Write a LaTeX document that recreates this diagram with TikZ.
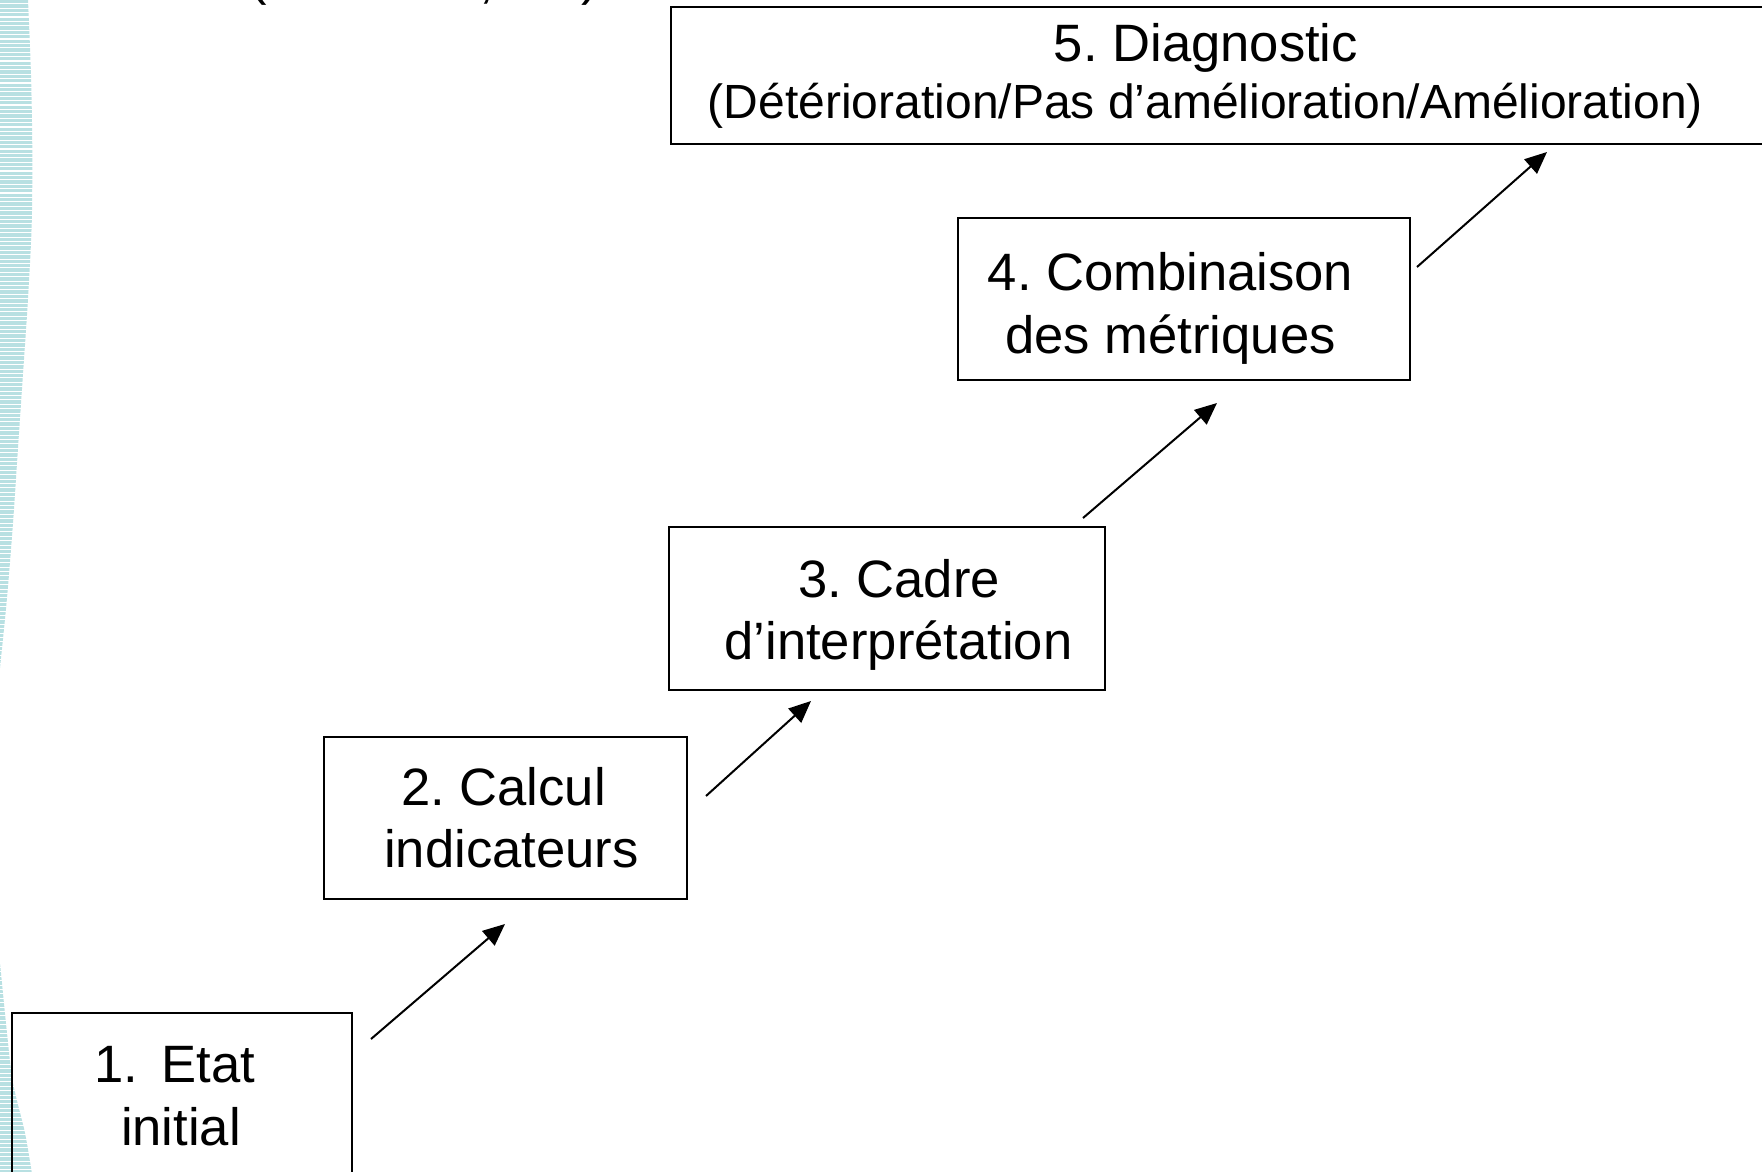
\documentclass[tikz,border=0pt]{standalone}
\usepackage{fontspec}
\setmainfont{Liberation Sans}
\usetikzlibrary{arrows.meta,calc}
\definecolor{stripecol}{RGB}{184,224,226}
\frenchspacing
\begin{document}
\begin{tikzpicture}[x=0.5pt,y=-0.5pt,
  stepbox/.style={draw=black, line width=1pt, inner sep=0pt, minimum height=81pt},
  lbl/.style={anchor=base, inner sep=0pt, font=\fontsize{26.3}{31}\selectfont},
  sublbl/.style={anchor=base, inner sep=0pt, font=\fontsize{24}{29}\selectfont},
  flow/.style={line width=1pt, -{Triangle[length=11pt,width=9.5pt]}},
  stripe/.style={fill=stripecol}]
\useasboundingbox (0,0) rectangle (1762,1172);
\clip (0,0) rectangle (1762,1172);

% striped band along the left edge, upper part
\begin{scope}
  \clip (0,-5) -- (28,-5) -- plot[smooth] coordinates {(28,0) (31,75) (32.3,150) (31.7,224) (28,299) (23,374) (18,448) (13,523) (7,598) (0,668)} -- cycle;
  \foreach \k in {0,...,155} \fill[stripe] (0,{\k*4.4}) rectangle (40,{\k*4.4+3.3});
\end{scope}
% striped band along the left edge, lower part
\begin{scope}
  \clip plot[smooth] coordinates {(0,963) (7,1033) (13,1083) (25,1133) (33,1180)} -- (0,1180) -- cycle;
  \foreach \k in {217,...,268} \fill[stripe] (0,{\k*4.4}) rectangle (40,{\k*4.4+3.3});
\end{scope}

% punctuation of the line cut by the top edge
\node[lbl] (p1) at (258,-5) {(};
\node[lbl] (p2) at (487,-2) {,};
\node[lbl] (p3) at (590,-5) {)};

% steps
\node[stepbox, minimum width=170pt] (b1) at (182,1094) {};
\node[stepbox, minimum width=181.5pt] (b2) at (505.5,818) {};
\node[stepbox, minimum width=218pt, minimum height=81.5pt] (b3) at (887,608.5) {};
\node[stepbox, minimum width=226pt] (b4) at (1184,299) {};
\node[stepbox, minimum width=559.5pt, minimum height=68.5pt] (b5) at (1230.5,75.5) {};

% step texts
\node[lbl] (t1a) at (175,1082) {1.\hspace{0.44em}Etat};
\node[lbl] (t1b) at (181,1145) {initial};
\node[lbl] (t2a) at (503.5,805) {2. Calcul};
\node[lbl] (t2b) at (511.5,867) {indicateurs};
\node[lbl] (t3a) at (899,597) {3. Cadre};
\node[lbl] (t3b) at (898.5,659) {d’interprétation};
\node[lbl] (t4a) at (1170.5,290) {4. Combinaison};
\node[lbl] (t4b) at (1170.5,353) {des métriques};
\node[lbl] (t5a) at (1206,62) {5. Diagnostic};
\node[sublbl] (t5b) at (1205.5,119) {(Détérioration/Pas d’amélioration/Amélioration)};

% arrows between the steps
\coordinate (a1s) at ($(b1.north east)+(18,27)$);
\coordinate (a1e) at ($(b2.south west)+(182,24)$);
\coordinate (a2s) at ($(b2.north east)+(18,60)$);
\coordinate (a2e) at ($(b3.south west)+(143,10)$);
\coordinate (a3s) at ($(b3.north east)+(-23,-8)$);
\coordinate (a3e) at ($(b4.south west)+(260,22)$);
\coordinate (a4s) at ($(b4.north east)+(6,50)$);
\coordinate (a4e) at ($(b5.south west)+(877,7)$);
\draw[flow] (a1s) -- (a1e);
\draw[flow] (a2s) -- (a2e);
\draw[flow] (a3s) -- (a3e);
\draw[flow] (a4s) -- (a4e);
\end{tikzpicture}
\end{document}
